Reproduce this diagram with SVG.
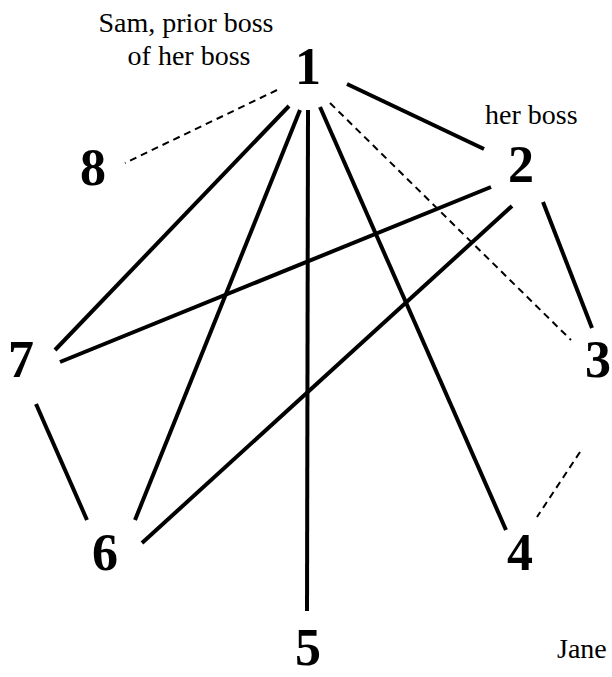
<svg xmlns="http://www.w3.org/2000/svg" width="612" height="677" viewBox="0 0 612 677">
<style>
.num{font-family:"Liberation Serif",serif;font-weight:bold;font-size:52px;text-anchor:middle;fill:#000}
.lbl{font-family:"Liberation Serif",serif;font-size:28px;fill:#000}
.e{stroke:#000;stroke-width:4;fill:none}
.d{stroke:#000;stroke-width:2;stroke-dasharray:7 5;fill:none}
</style>
<rect width="612" height="677" fill="#fff"/>
<g id="connectors">
<line class="e" x1="347" y1="84" x2="484" y2="149"/>
<line class="d" x1="277" y1="90" x2="125" y2="163"/>
<line class="e" x1="289" y1="106" x2="55" y2="350"/>
<line class="e" x1="300" y1="110" x2="135" y2="520"/>
<line class="e" x1="308" y1="110" x2="307" y2="611"/>
<line class="e" x1="320" y1="107" x2="506" y2="530"/>
<line class="d" x1="330" y1="103" x2="571" y2="340"/>
<line class="e" x1="491" y1="187" x2="60" y2="362"/>
<line class="e" x1="512" y1="206" x2="142" y2="543"/>
<line class="e" x1="543" y1="202" x2="592" y2="328"/>
<line class="d" x1="580" y1="452" x2="537" y2="517"/>
<line class="e" x1="36" y1="404" x2="87" y2="520"/>
</g>
<g id="n1"><text class="num" x="308" y="84">1</text><text class="lbl" x="186" y="32" text-anchor="middle">Sam, prior boss</text><text class="lbl" x="189" y="65" text-anchor="middle">of her boss</text></g>
<g id="n2"><text class="num" x="521" y="182">2</text><text class="lbl" x="485" y="124">her boss</text></g>
<g id="n3"><text class="num" x="598" y="377">3</text></g>
<g id="n4"><text class="num" x="520" y="570">4</text></g>
<g id="n5"><text class="num" x="308" y="665">5</text></g>
<g id="n6"><text class="num" x="105" y="570">6</text></g>
<g id="n7"><text class="num" x="21" y="377">7</text></g>
<g id="n8"><text class="num" x="93" y="185">8</text></g>
<g id="jane"><text class="lbl" x="557" y="658">Jane</text></g>
</svg>
